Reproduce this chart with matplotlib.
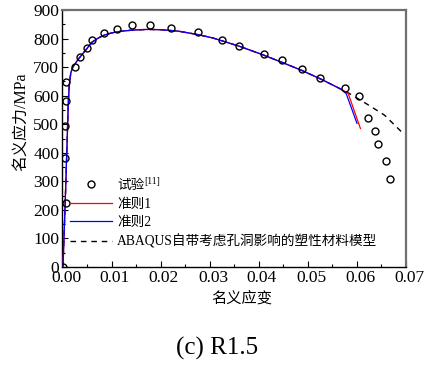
import matplotlib
matplotlib.use("Agg")
import matplotlib.pyplot as plt
import matplotlib.transforms as mtransforms
from matplotlib.ticker import MultipleLocator, FormatStrFormatter

plt.rcParams['font.family'] = ['Liberation Serif', 'Noto Sans CJK SC']

# Experimental points
exp_strain = [0.0, 0.0006, 0.0004, 0.0005, 0.0006, 0.0006, 0.0024, 0.0035, 0.0048, 0.0059,
              0.0084, 0.0110, 0.0140, 0.0177, 0.0220, 0.0275, 0.0324, 0.0360, 0.0410,
              0.0446, 0.0488, 0.0525, 0.0575, 0.0605, 0.0623, 0.0636, 0.0642, 0.0660, 0.0667]
exp_stress = [0, 225, 382, 494, 582, 647, 701, 734, 768, 795,
              818, 835, 846, 849, 838, 823, 795, 775, 747,
              724, 692, 662, 628, 598, 521, 476, 432, 371, 308]

# Common body of the simulated curves
body_strain = [0.0, 0.0005, 0.0009, 0.0011, 0.0013, 0.0016, 0.0020, 0.0028, 0.0037, 0.0048,
               0.0059, 0.0072, 0.0084, 0.0100, 0.0120, 0.0145, 0.0173, 0.0200, 0.0235,
               0.0275, 0.0306, 0.0360, 0.0405, 0.0445, 0.0488, 0.0530, 0.0568]
body_stress = [0, 250, 470, 580, 640, 680, 700, 720, 740, 763,
               787, 802, 812, 820, 826, 830, 832, 831, 826,
               814, 802, 773, 745, 718, 688, 655, 622]

crit1_strain = body_strain + [0.0582, 0.0607]
crit1_stress = body_stress + [608, 485]
crit2_strain = body_strain + [0.0578, 0.0600]
crit2_stress = body_stress + [607, 503]
abaqus_strain = body_strain + [0.0580, 0.0618, 0.0656, 0.0694]
abaqus_stress = body_stress + [612, 573, 532, 468]

labels = ['试验', '准则1', '准则2', 'ABAQUS自带考虑孔洞影响的塑性材料模型']
ref_sup = '[11]'

fig = plt.figure(figsize=(4.25, 3.65), dpi=100)
ax = fig.add_axes([62/425, 1-267/365, (406-62)/425, (267-10)/365])

l_ab, = ax.plot(abaqus_strain, abaqus_stress, color='black', lw=1.0, ls=(0, (4, 3.5)), zorder=2)
l_c1, = ax.plot(crit1_strain, crit1_stress, color='red', lw=0.9, zorder=3)
l_c2, = ax.plot(crit2_strain, crit2_stress, color='blue', lw=0.9, zorder=4)
l_ex, = ax.plot(exp_strain, exp_stress, ls='none', marker='o', ms=5, mfc='none', mec='black',
                mew=1.0, zorder=5)

ax.set_xlim(-0.0002, 0.07)
ax.set_ylim(0, 900)
ax.xaxis.set_major_locator(MultipleLocator(0.01))
ax.xaxis.set_minor_locator(MultipleLocator(0.005))
ax.yaxis.set_major_locator(MultipleLocator(100))
ax.yaxis.set_minor_locator(MultipleLocator(50))
ax.xaxis.set_major_formatter(FormatStrFormatter('%.2f'))
ax.tick_params(which='both', direction='in', top=False, right=False, labelsize=12.5, pad=2)
ax.tick_params(which='major', length=4, width=0.8)
ax.tick_params(which='minor', length=2.5, width=0.8)
off = mtransforms.ScaledTranslation(3/100, 0, fig.dpi_scale_trans)
for t in ax.get_xticklabels():
    t.set_transform(t.get_transform() + off)
for s in ['top', 'right']:
    ax.spines[s].set_color('#707070')
    ax.spines[s].set_linewidth(1.6)
for s in ['left', 'bottom']:
    ax.spines[s].set_color('black')
    ax.spines[s].set_linewidth(1.0)

ax.set_xlabel('名义应变', fontsize=11, labelpad=4, x=(242-62)/344)
ax.set_ylabel('名义应力/MPa', fontsize=11.5, labelpad=3, y=(267-122)/257)

leg = ax.legend([l_ex, l_c1, l_c2, l_ab], labels, loc='upper left',
                bbox_to_anchor=(70/425, 1-179/365), bbox_transform=fig.transFigure,
                frameon=False, fontsize=9.8, handlelength=3.1, handletextpad=0.35,
                labelspacing=0.4, borderaxespad=0, borderpad=0)

fig.text(217/425, 1-348/365, '(c) R1.5', ha='center', va='center', fontsize=18)

fig.canvas.draw()
bb = leg.get_texts()[0].get_window_extent(fig.canvas.get_renderer())
fig.text((bb.x1 + 0.5)/425, (bb.y0 + 0.5*bb.height)/365, ref_sup, ha='left', va='bottom',
         fontsize=7)

fig.savefig('out.png', dpi=100)
